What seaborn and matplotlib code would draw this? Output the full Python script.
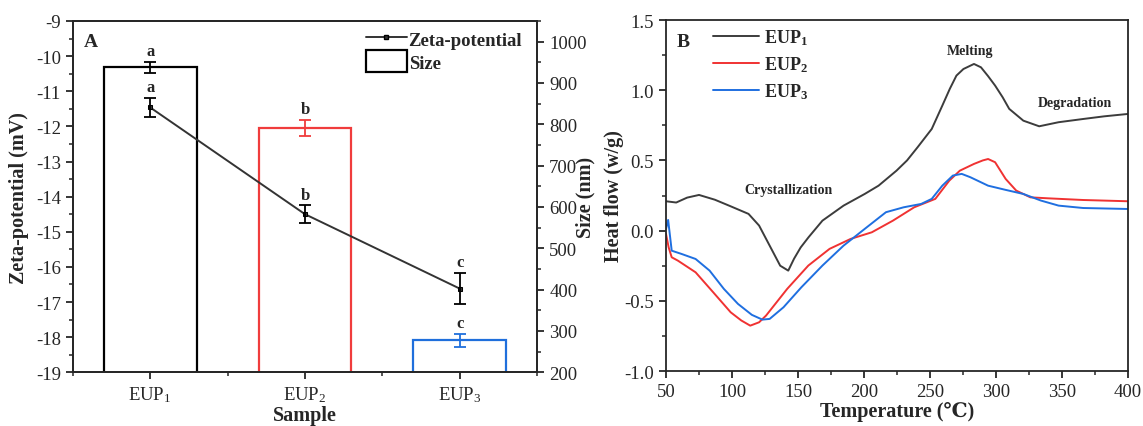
import numpy as np
import pandas as pd
import matplotlib
matplotlib.use("Agg")
import matplotlib.pyplot as plt
import seaborn as sns
from matplotlib.ticker import MultipleLocator, FixedLocator
from matplotlib.patches import Patch
from matplotlib.lines import Line2D

# ---------------- data ----------------
samples = ["EUP1", "EUP2", "EUP3"]
sample_labels = ["EUP$_1$", "EUP$_2$", "EUP$_3$"]
size_nm = [938, 791, 277]
size_err = [13, 19, 15]
size_letters = ["a", "b", "c"]
zeta_mv = [-11.46, -14.50, -16.62]
zeta_err = [0.28, 0.25, 0.44]
zeta_letters = ["a", "b", "c"]

eup1_t = [50, 57.7, 66, 75, 87, 99, 112.5, 120.5, 128.5, 136.5, 142.6, 147, 152, 158, 168.5,
          184.5, 200.5, 211, 224.6, 232.6, 240.6, 251.3, 259.3, 265, 270, 275.3, 283.3,
          288.6, 294, 299.3, 305, 310, 320.7, 332.7, 347.4, 366, 382, 400]
eup1_h = [0.209, 0.200, 0.235, 0.254, 0.22, 0.173, 0.119, 0.036, -0.107, -0.25, -0.285, -0.20,
          -0.12, -0.047, 0.071, 0.178, 0.261, 0.32, 0.427, 0.50, 0.594, 0.724, 0.89, 1.01,
          1.104, 1.151, 1.187, 1.163, 1.10, 1.033, 0.95, 0.867, 0.783, 0.743, 0.772, 0.795,
          0.814, 0.831]

eup2_t = [50, 52, 54.3, 59, 72.4, 85.8, 99, 107, 113.8, 120.5, 125.8, 141.8, 157.8, 173.9,
          189.9, 205.9, 221.9, 238, 254, 264.6, 272.6, 283.3, 290, 294, 299.3, 307.3, 315.3,
          326, 339.4, 366, 400]
eup2_h = [-0.024, -0.12, -0.19, -0.214, -0.297, -0.44, -0.582, -0.64, -0.677, -0.653, -0.605,
          -0.415, -0.249, -0.13, -0.059, -0.012, 0.071, 0.166, 0.226, 0.356, 0.427, 0.475,
          0.50, 0.51, 0.487, 0.368, 0.285, 0.237, 0.23, 0.218, 0.209]

eup3_t = [50, 51.6, 54.3, 61.7, 72.4, 83, 93.8, 104.5, 115, 123, 128.5, 139, 152.5, 168.5,
          184.5, 200.5, 216.6, 230, 243.3, 251.3, 259.3, 267.3, 274, 280.6, 294, 307.3,
          320.7, 334, 347.4, 366, 400]
eup3_h = [0.012, 0.076, -0.143, -0.166, -0.202, -0.285, -0.415, -0.522, -0.60, -0.634, -0.629,
          -0.546, -0.404, -0.249, -0.107, 0.012, 0.131, 0.166, 0.19, 0.226, 0.32, 0.392, 0.404,
          0.38, 0.32, 0.29, 0.261, 0.214, 0.178, 0.161, 0.154]

bar_colors = ["#000000", "#f03c3c", "#1f6fdc"]
line_colors = ["#3c3c3c", "#f03232", "#1f6fe0"]

# ---------------- style ----------------
sns.set_theme(style="ticks")
plt.rcParams["font.family"] = ["Liberation Serif", "DejaVu Serif"]
plt.rcParams["mathtext.fontset"] = "custom"
plt.rcParams["mathtext.rm"] = "Liberation Serif"
plt.rcParams["mathtext.it"] = "Liberation Serif:italic"
plt.rcParams["mathtext.bf"] = "Liberation Serif:bold"
plt.rcParams["axes.linewidth"] = 1.3
plt.rcParams["xtick.direction"] = "out"
plt.rcParams["ytick.direction"] = "out"

fig = plt.figure(figsize=(11.43, 4.27), dpi=100)
axA = fig.add_axes([0.0636, 0.1258, 0.4065, 0.8227])
axA2 = axA.twinx()
axB = fig.add_axes([0.5827, 0.1288, 0.4042, 0.8220])

TICK = 13.5
LAB = 14.5

# ---------------- Panel A ----------------
dfA = pd.DataFrame({"sample": samples, "size": size_nm, "zeta": zeta_mv})
sns.barplot(data=dfA, x="sample", y="size", hue="sample", palette=bar_colors, fill=False,
            width=0.6, linewidth=1.6, legend=False, ax=axA2, errorbar=None, saturation=1)
for i, (v, e) in enumerate(zip(size_nm, size_err)):
    axA2.errorbar(i, v, yerr=e, color=bar_colors[i], capsize=4, lw=1.3, capthick=1.3)
    axA2.text(i, v + e + 8, size_letters[i], ha="center", va="bottom",
              fontsize=12, fontweight="bold")
axA2.set_ylim(200, 1050)
axA2.yaxis.set_major_locator(MultipleLocator(100))
axA2.yaxis.set_minor_locator(MultipleLocator(50))
axA2.set_ylabel("Size (nm)", fontsize=LAB, fontweight="bold")
axA2.yaxis.set_label_coords(1.083, 0.5)
axA2.tick_params(axis="y", which="major", labelsize=TICK, length=5, width=1.3)
axA2.tick_params(axis="y", which="minor", length=3, width=1.1)

axA.set_zorder(axA2.get_zorder() + 1)
axA.patch.set_visible(False)
sns.lineplot(x=np.arange(3), y=zeta_mv, color="#333333", lw=1.4, marker="s",
             markersize=3.5, markeredgecolor="#000000", ax=axA)
axA.errorbar(np.arange(3), zeta_mv, yerr=zeta_err, fmt="none", ecolor="#000000",
             capsize=4, lw=1.3, capthick=1.3)
for i, (v, e) in enumerate(zip(zeta_mv, zeta_err)):
    axA.text(i, v + e + 0.08, zeta_letters[i], ha="center", va="bottom",
             fontsize=12, fontweight="bold")
axA.set_xlim(-0.5, 2.5)
axA.set_ylim(-19, -9)
axA.yaxis.set_major_locator(MultipleLocator(1))
axA.yaxis.set_minor_locator(MultipleLocator(0.5))
axA.xaxis.set_major_locator(FixedLocator([0, 1, 2]))
axA.xaxis.set_minor_locator(FixedLocator([-0.5, 0.5, 1.5, 2.5]))
axA.set_xticklabels(sample_labels)
axA.set_yticklabels([f"{int(t)}" for t in axA.get_yticks()])
axA.tick_params(axis="both", which="major", labelsize=TICK, length=5, width=1.3)
axA.tick_params(axis="both", which="minor", length=3, width=1.1)
axA.set_xlabel("Sample", fontsize=LAB, fontweight="bold", labelpad=1)
axA.set_ylabel("Zeta-potential (mV)", fontsize=LAB, fontweight="bold")
axA.yaxis.set_label_coords(-0.094, 0.5)
axA.text(0.024, 0.966, "A", transform=axA.transAxes, fontsize=14, fontweight="bold",
         ha="left", va="top")
handlesA = [Line2D([0], [0], color="#333333", lw=1.4, marker="s", markersize=3,
                   markeredgecolor="#000000"),
            Patch(facecolor="white", edgecolor="#000000", linewidth=1.6)]
axA.legend(handlesA, ["Zeta-potential", "Size"], loc="upper left", frameon=False,
           prop={"weight": "bold", "size": 13.5}, handlelength=2.2, handleheight=1.45,
           handletextpad=0.08, borderaxespad=0, borderpad=0.37, labelspacing=0.0,
           bbox_to_anchor=(0.616, 1.0))

# ---------------- Panel B ----------------
dfB = pd.concat([
    pd.DataFrame({"T": eup1_t, "H": eup1_h, "s": "EUP1"}),
    pd.DataFrame({"T": eup2_t, "H": eup2_h, "s": "EUP2"}),
    pd.DataFrame({"T": eup3_t, "H": eup3_h, "s": "EUP3"}),
])
sns.lineplot(data=dfB, x="T", y="H", hue="s", palette=line_colors, lw=1.4, ax=axB,
             legend=False, sort=False)
axB.set_xlim(50, 400)
axB.set_ylim(-1.0, 1.5)
axB.xaxis.set_major_locator(MultipleLocator(50))
axB.xaxis.set_minor_locator(MultipleLocator(25))
axB.yaxis.set_major_locator(MultipleLocator(0.5))
axB.yaxis.set_minor_locator(MultipleLocator(0.25))
axB.set_yticklabels([f"{t:.1f}" for t in axB.get_yticks()])
axB.tick_params(axis="both", which="major", labelsize=TICK, length=5, width=1.3)
axB.tick_params(axis="both", which="minor", length=3, width=1.1)
axB.set_xlabel("Temperature (\u2103)", fontsize=LAB, fontweight="bold", labelpad=1)
axB.set_ylabel("Heat flow (w/g)", fontsize=LAB, fontweight="bold")
axB.yaxis.set_label_coords(-0.091, 0.5)
axB.text(0.024, 0.962, "B", transform=axB.transAxes, fontsize=14, fontweight="bold",
         ha="left", va="top")
handlesB = [Line2D([0], [0], color=c, lw=1.4) for c in line_colors]
axB.legend(handlesB, [r"$\mathbf{EUP_1}$", r"$\mathbf{EUP_2}$", r"$\mathbf{EUP_3}$"],
           loc="upper left", bbox_to_anchor=(0.087, 1.0), frameon=False,
           borderaxespad=0, borderpad=0.4,
           prop={"size": 13}, handlelength=2.5, handletextpad=0.3, labelspacing=0.4)
axB.text(142.8, 0.29, "Crystallization", ha="center", va="center", fontsize=10,
         fontweight="bold")
axB.text(280, 1.28, "Melting", ha="center", va="center", fontsize=10, fontweight="bold")
axB.text(360, 0.91, "Degradation", ha="center", va="center", fontsize=10,
         fontweight="bold")

fig.savefig("out.png", dpi=100)
